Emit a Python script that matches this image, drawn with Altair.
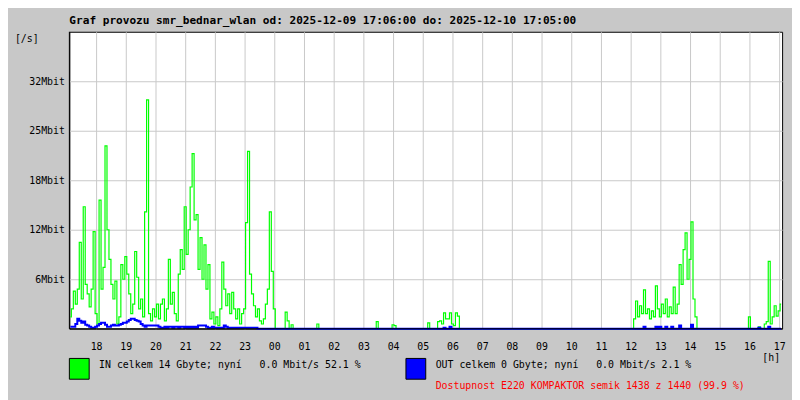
import json
import altair as alt
import pandas as pd

MONO = "DejaVu Sans Mono"
BG = "#c8c8c8"
GRID = "#c8c8c8"

TITLE = "Graf provozu smr_bednar_wlan od: 2025-12-09 17:06:00 do: 2025-12-10 17:05:00"
IN_TEXT = "IN celkem 14 Gbyte; nyní   0.0 Mbit/s 52.1 %"
OUT_TEXT = "OUT celkem 0 Gbyte; nyní   0.0 Mbit/s 2.1 %"
AVAIL_TEXT = "Dostupnost E220 KOMPAKTOR semik 1438 z 1440 (99.9 %)"
Y_UNIT = "[/s]"
X_UNIT = "[h]"

# x axis: minutes since 17:06, ticks at full hours
hour_labels = ["18", "19", "20", "21", "22", "23", "00", "01", "02", "03", "04", "05",
               "06", "07", "08", "09", "10", "11", "12", "13", "14", "15", "16", "17"]
hour_tick_minutes = [54 + 60 * k for k in range(len(hour_labels))]

# y axis (Mbit/s)
y_tick_values = [6.25, 12.5, 18.75, 25.0, 31.25]
y_tick_labels = ["6Mbit", "12Mbit", "18Mbit", "25Mbit", "32Mbit"]
y_max = 37.5

# samples: one every 4 minutes (centre of each interval)
sample_minutes = [2 + 4 * i for i in range(360)]

in_mbit = [
    1.5, 2.5, 4.75, 3.1, 5.0, 10.9, 3.75, 15.4, 5.6, 4.4,
    2.75, 5.0, 12.25, 1.9, 0.6, 16.25, 5.0, 7.75, 23.1, 12.5,
    8.75, 5.6, 3.75, 6.0, 0.6, 1.5, 8.1, 6.25, 9.1, 6.9,
    4.4, 1.9, 3.1, 9.75, 6.5, 2.5, 3.75, 1.5, 14.75, 28.9,
    1.9, 1.0, 2.5, 1.5, 3.1, 1.25, 3.1, 3.75, 1.0, 2.5,
    8.75, 3.1, 4.6, 1.9, 1.0, 6.9, 10.0, 7.5, 15.4, 9.4,
    12.5, 17.9, 22.1, 13.75, 14.4, 7.5, 11.5, 6.25, 10.6, 5.0,
    8.1, 1.25, 2.1, 0.6, 1.5, 0.4, 2.5, 8.4, 5.0, 2.9,
    4.4, 1.9, 4.6, 2.5, 1.25, 2.5, 0.6, 1.9, 2.5, 13.4,
    22.4, 6.9, 4.4, 2.9, 1.5, 2.5, 1.0, 0.6, 1.25, 3.1,
    5.0, 14.75, 7.25, 2.5, 0, 0, 0, 0, 0, 2.1,
    1.0, 0, 0.5, 0, 0, 0, 0, 0, 0, 0,
    0, 0, 0, 0, 0, 0.6, 0, 0, 0, 0,
    0, 0, 0, 0, 0, 0, 0, 0, 0, 0,
    0, 0, 0, 0, 0, 0, 0, 0, 0, 0,
    0, 0, 0, 0, 0, 0.9, 0, 0, 0, 0,
    0, 0, 0, 0.5, 0.4, 0, 0, 0, 0, 0,
    0, 0, 0, 0, 0, 0, 0, 0, 0, 0,
    0, 0.75, 0, 0, 0, 0, 0.9, 1.0, 0.6, 2.0,
    1.25, 1.25, 2.0, 0.6, 0.4, 2.0, 1.6, 0, 0, 0,
    0, 0, 0, 0, 0, 0, 0, 0, 0, 0,
    0, 0, 0, 0, 0, 0, 0, 0, 0, 0,
    0, 0, 0, 0, 0, 0, 0, 0, 0, 0,
    0, 0, 0, 0, 0, 0, 0, 0, 0, 0,
    0, 0, 0, 0, 0, 0, 0, 0, 0, 0,
    0, 0, 0, 0, 0, 0, 0, 0, 0, 0,
    0, 0, 0, 0, 0, 0, 0, 0, 0, 0,
    0, 0, 0, 0, 0, 0, 0, 0, 0, 0,
    0, 0, 0, 0, 0, 1.25, 3.5, 1.5, 2.9, 1.9,
    4.9, 1.9, 2.5, 1.25, 2.25, 1.5, 5.4, 2.5, 1.5, 3.1,
    1.9, 3.75, 1.5, 2.75, 1.9, 5.25, 1.9, 3.1, 8.1, 5.6,
    10.0, 12.1, 6.25, 8.75, 13.5, 3.75, 1.5, 0, 0, 0,
    0, 0, 0, 0, 0, 0, 0, 0, 0, 0,
    0, 0, 0, 0, 0, 0, 0, 0, 0, 0,
    0, 0, 0, 1.5, 0, 0, 0, 0, 0.25, 0,
    0, 0.6, 0.9, 8.5, 0.6, 1.5, 2.9, 1.6, 2.25, 3.1,
]

out_mbit = [
    0.25, 0.25, 0.25, 0.6, 1.25, 1.0, 0.75, 0.9, 0.5, 0.4,
    0.25, 0.12, 0.12, 0.25, 0.4, 0.6, 0.75, 0.75, 0.5, 0.25,
    0.25, 0.4, 0.5, 0.4, 0.4, 0.5, 0.6, 0.75, 0.75, 0.9,
    1.1, 1.25, 1.25, 1.1, 1.0, 0.9, 0.6, 0.4, 0.25, 0.4,
    0.4, 0.4, 0.4, 0.4, 0.4, 0.25, 0.12, 0.12, 0.25, 0.12,
    0.25, 0.25, 0.12, 0.25, 0.25, 0.12, 0.25, 0.25, 0.12, 0.25,
    0.12, 0.25, 0.12, 0.25, 0.12, 0.4, 0.4, 0.4, 0.4, 0.25,
    0.12, 0.12, 0.25, 0.12, 0.12, 0.12, 0.12, 0.12, 0.4, 0.25,
    0.12, 0.12, 0.12, 0.12, 0.12, 0.12, 0.12, 0.12, 0.12, 0.12,
    0.12, 0.12, 0.12, 0.12, 0.12, 0, 0, 0, 0, 0,
    0, 0, 0, 0, 0, 0, 0, 0, 0, 0,
    0, 0, 0, 0, 0, 0, 0, 0, 0, 0,
    0, 0, 0, 0, 0, 0, 0, 0, 0, 0,
    0, 0, 0, 0, 0, 0, 0, 0, 0, 0,
    0, 0, 0, 0, 0, 0, 0, 0, 0, 0,
    0, 0, 0, 0, 0, 0, 0, 0, 0, 0,
    0, 0, 0, 0, 0, 0, 0, 0, 0, 0,
    0, 0, 0, 0, 0, 0, 0, 0, 0, 0,
    0, 0, 0, 0, 0, 0, 0, 0, 0, 0.12,
    0, 0, 0.25, 0, 0, 0, 0, 0, 0, 0,
    0, 0, 0, 0, 0, 0, 0, 0, 0, 0,
    0, 0, 0, 0, 0, 0, 0, 0, 0, 0,
    0, 0, 0, 0, 0, 0, 0, 0, 0, 0,
    0, 0, 0, 0, 0, 0, 0, 0, 0, 0,
    0, 0, 0, 0, 0, 0, 0, 0, 0, 0,
    0, 0, 0, 0, 0, 0, 0, 0, 0, 0,
    0, 0, 0, 0, 0, 0, 0, 0, 0, 0,
    0, 0, 0, 0, 0, 0, 0, 0, 0, 0,
    0, 0, 0, 0, 0, 0, 0, 0, 0, 0,
    0.25, 0, 0, 0, 0, 0, 0.25, 0, 0.25, 0,
    0, 0.25, 0, 0, 0.25, 0, 0, 0, 0.4, 0,
    0, 0, 0, 0, 0.5, 0, 0, 0, 0, 0,
    0, 0, 0, 0, 0, 0, 0, 0, 0, 0,
    0, 0, 0, 0, 0, 0, 0, 0, 0, 0,
    0, 0, 0, 0, 0, 0, 0, 0, 0.12, 0,
    0, 0, 0, 0.25, 0, 0, 0, 0, 0, 0,
]

df = pd.DataFrame({"t": sample_minutes, "inp": in_mbit, "out": out_mbit})


def nb(s):
    return s.replace(" ", "\u00a0")


x_axis = alt.Axis(
    values=hour_tick_minutes,
    labelExpr=json.dumps(hour_labels) + "[round((datum.value - 54) / 60)]",
    title=None, ticks=False, domain=False, grid=True,
    gridColor=GRID, gridWidth=1, labelPadding=13, labelFont=MONO,
    labelFontSize=10, labelColor="#000000", labelOverlap=False, labelFlush=False,
)
y_axis = alt.Axis(
    values=y_tick_values,
    labelExpr=json.dumps(y_tick_labels) + "[round(datum.value / 6.25) - 1]",
    title=None, ticks=False, domain=False, grid=True,
    gridColor=GRID, gridWidth=1, labelPadding=5, labelFont=MONO,
    labelFontSize=10, labelColor="#000000", labelOverlap=False,
)
x_enc = alt.X("t:Q", scale=alt.Scale(domain=[0, 1440], nice=False, zero=False), axis=x_axis)
y_scale = alt.Scale(domain=[0, y_max], nice=False)

green = alt.Chart(df).mark_line(color="#00ff00", interpolate="step", strokeWidth=1.2).encode(
    x=x_enc, y=alt.Y("inp:Q", scale=y_scale, axis=y_axis)
)
blue = alt.Chart(df).mark_line(color="#0000ff", interpolate="step", strokeWidth=2).encode(
    x=x_enc, y=alt.Y("out:Q", scale=y_scale, axis=y_axis)
)

one = pd.DataFrame({"k": [0]})
bottom_rule = alt.Chart(one).mark_rule(color="#000000", strokeWidth=1).encode(
    y=alt.value(300), x=alt.value(0), x2=alt.value(720)
)
left_rule = alt.Chart(one).mark_rule(color="#000000", strokeWidth=1).encode(
    x=alt.value(0), y=alt.value(0), y2=alt.value(300)
)


def text(s, x, y, align="left", color="#000000", size=10, weight="normal", baseline="alphabetic"):
    return alt.Chart(pd.DataFrame({"s": [nb(s)]})).mark_text(
        align=align, baseline=baseline, font=MONO, fontSize=size, fontWeight=weight, color=color
    ).encode(x=alt.value(x), y=alt.value(y), text="s:N")


def box(x0, color):
    return alt.Chart(one).mark_rect(fill=color, stroke="#000000", strokeWidth=1).encode(
        x=alt.value(x0), x2=alt.value(x0 + 20), y=alt.value(330), y2=alt.value(351)
    )


layers = [
    green, blue, bottom_rule, left_rule,
    text(TITLE, 0, -8, size=11.2, weight="bold"),
    text(Y_UNIT, -55, 10.5),
    text(X_UNIT, 718, 332.5, align="right"),
    box(0, "#00ff00"),
    box(340, "#0000ff"),
    text(IN_TEXT, 30, 340),
    text(OUT_TEXT, 370, 340),
    text(AVAIL_TEXT, 370, 360.5, color="#ff0000"),
]

chart = alt.layer(*layers).properties(
    width=720, height=300,
    autosize=alt.AutoSizeParams(type="none"),
    padding={"left": 62, "top": 22, "right": 10, "bottom": 70},
).configure(background=BG).configure_view(fill="white", stroke="#000000", strokeWidth=1)

chart.save("out.html", embed_options={"renderer": "svg", "actions": False})
